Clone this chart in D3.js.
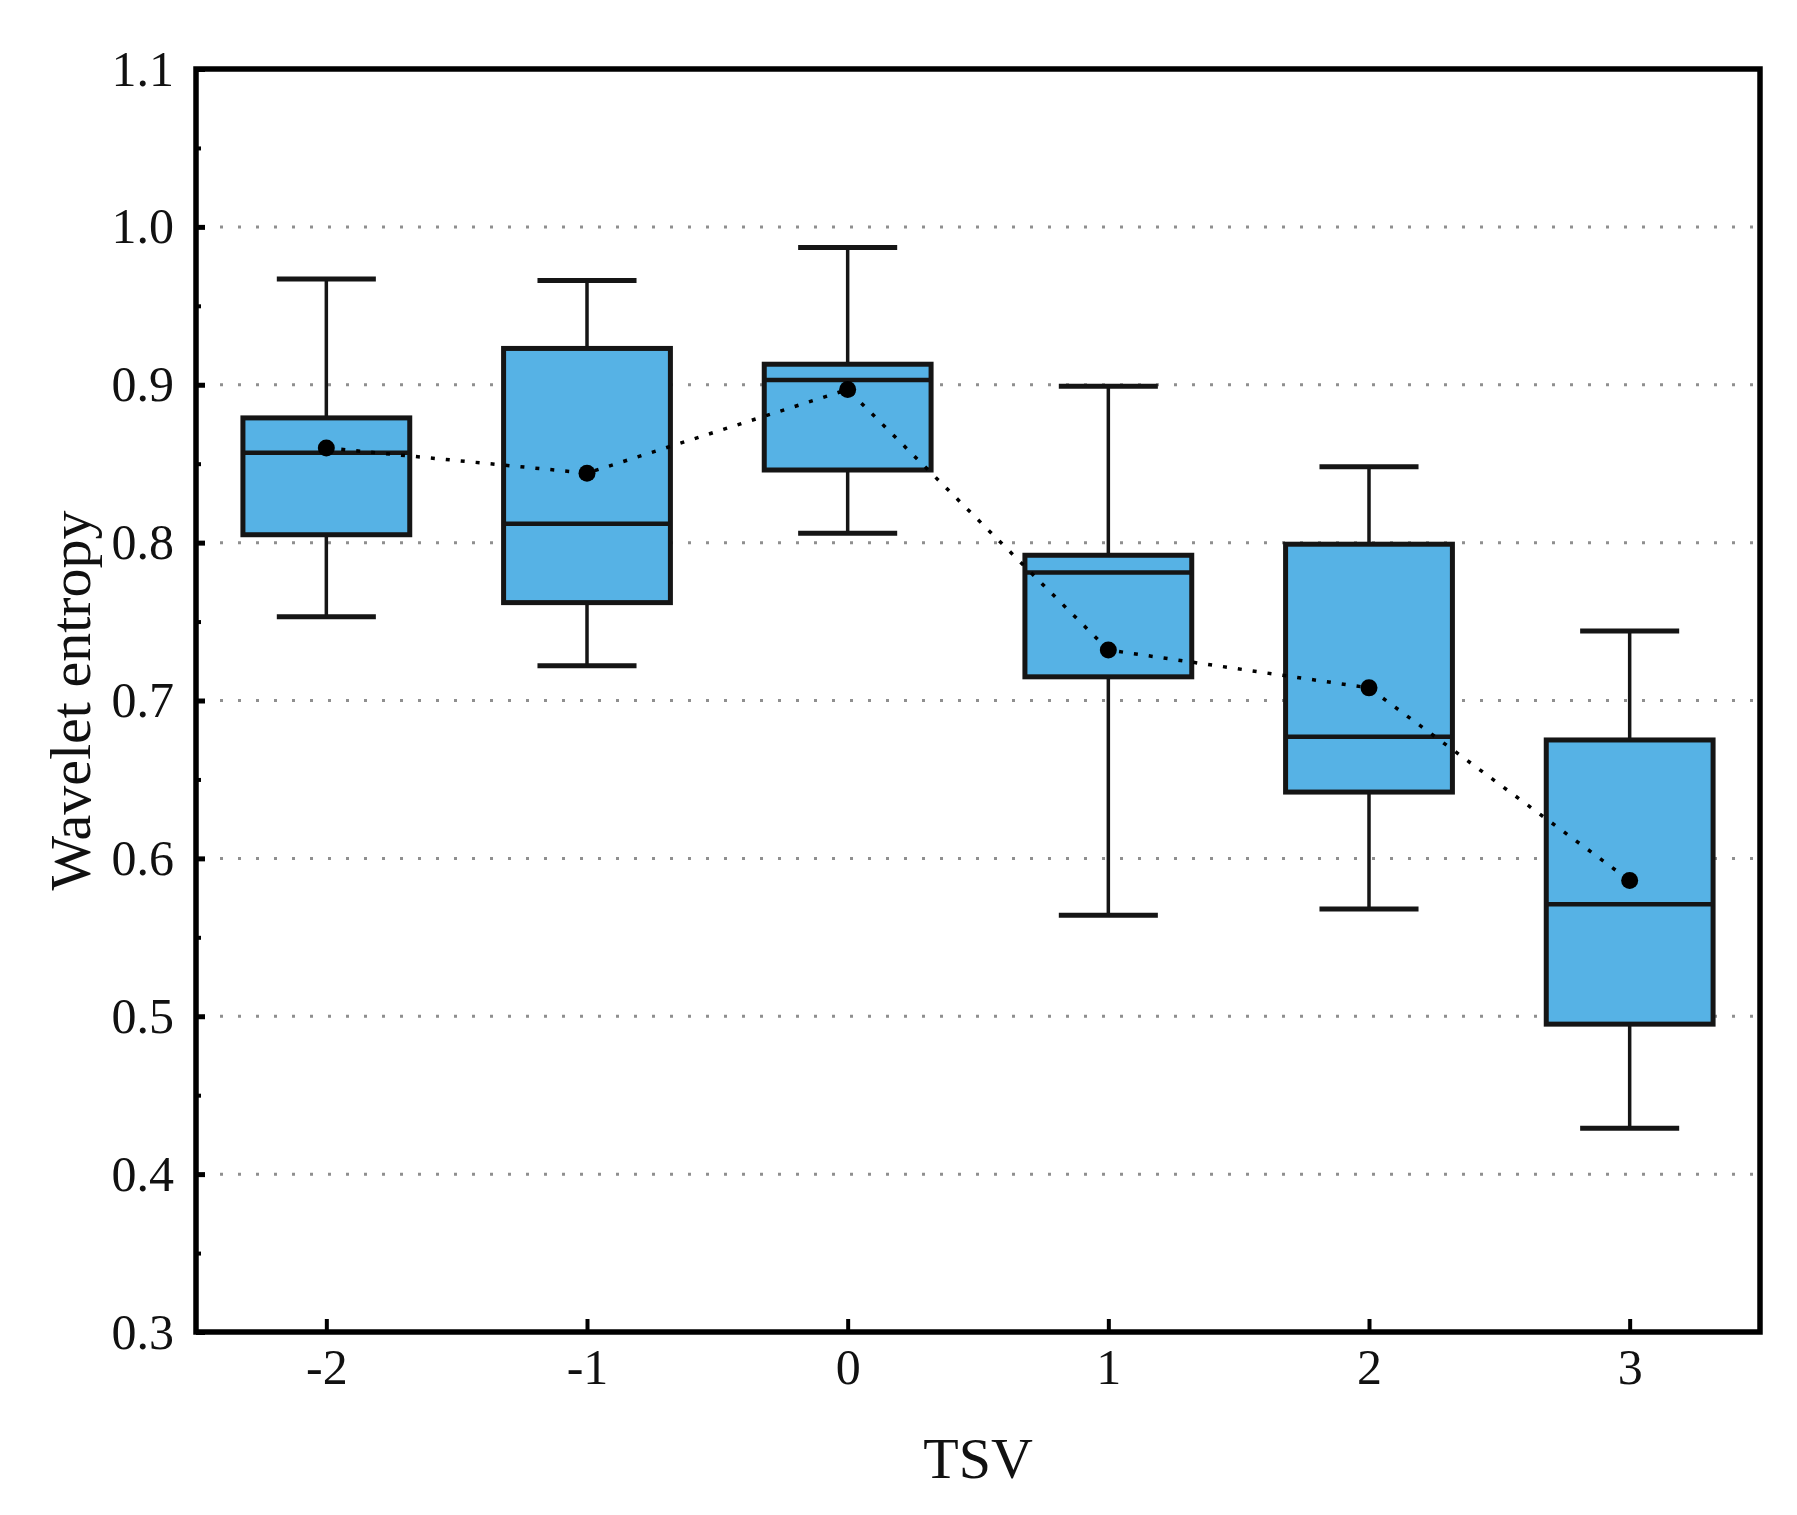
<!DOCTYPE html>
<html>
<head>
<meta charset="utf-8">
<script src="https://cdn.jsdelivr.net/npm/d3@7"></script>
<style>
  html, body { margin: 0; padding: 0; background: #fff; }
  svg { display: block; }
</style>
</head>
<body>
<div id="chart"></div>
<script>
// TSV categories and the box statistics
const tsv = [-2, -1, 0, 1, 2, 3];
const whiskerHigh = [0.967, 0.966, 0.987, 0.899, 0.848, 0.744];
const q3 = [0.879, 0.923, 0.913, 0.792, 0.799, 0.675];
const median = [0.857, 0.812, 0.903, 0.781, 0.677, 0.571];
const q1 = [0.805, 0.762, 0.846, 0.715, 0.642, 0.495];
const whiskerLow = [0.753, 0.722, 0.806, 0.564, 0.568, 0.429];
const mean = [0.860, 0.844, 0.897, 0.732, 0.708, 0.586];

const yTicks = [0.3, 0.4, 0.5, 0.6, 0.7, 0.8, 0.9, 1.0, 1.1];
const yMinorTicks = [0.35, 0.45, 0.55, 0.65, 0.75, 0.85, 0.95, 1.05];
const gridValues = [0.4, 0.5, 0.6, 0.7, 0.8, 0.9, 1.0];

const W = 1797, H = 1515;
const margin = { top: 69, right: 37, bottom: 183, left: 196 };
const boxWidth = 0.64;   // in TSV units
const capWidth = 0.38;
const font = "'Liberation Serif', 'Times New Roman', Times, serif";

const svg = d3.select("#chart").append("svg")
    .attr("width", W)
    .attr("height", H);

const x = d3.scaleLinear()
    .domain([-2.5, 3.5])
    .range([margin.left, W - margin.right]);

const y = d3.scaleLinear()
    .domain([0.3, 1.1])
    .range([H - margin.bottom, margin.top]);

// Dotted grid lines
svg.append("g").selectAll("line")
    .data(gridValues)
    .join("line")
    .attr("x1", x(-2.5) + 6)
    .attr("x2", x(3.5) - 6)
    .attr("y1", d => y(d))
    .attr("y2", d => y(d))
    .attr("stroke", "#8f8f8f")
    .attr("stroke-width", 3)
    .attr("stroke-dasharray", "3,15");

const stats = tsv.map((t, i) => ({
    t: t, hi: whiskerHigh[i], q3: q3[i], med: median[i], q1: q1[i], lo: whiskerLow[i], mean: mean[i]
}));

const boxes = svg.append("g").selectAll("g")
    .data(stats)
    .join("g");

// Whisker stems
boxes.append("line")
    .attr("x1", d => x(d.t)).attr("x2", d => x(d.t))
    .attr("y1", d => y(d.hi)).attr("y2", d => y(d.q3))
    .attr("stroke", "#151515").attr("stroke-width", 3.5);
boxes.append("line")
    .attr("x1", d => x(d.t)).attr("x2", d => x(d.t))
    .attr("y1", d => y(d.q1)).attr("y2", d => y(d.lo))
    .attr("stroke", "#151515").attr("stroke-width", 3.5);

// Whisker caps
boxes.selectAll("line.cap")
    .data(d => [{ t: d.t, v: d.hi }, { t: d.t, v: d.lo }])
    .join("line")
    .attr("class", "cap")
    .attr("x1", d => x(d.t - capWidth / 2))
    .attr("x2", d => x(d.t + capWidth / 2))
    .attr("y1", d => y(d.v)).attr("y2", d => y(d.v))
    .attr("stroke", "#151515").attr("stroke-width", 5);

// Boxes
boxes.append("rect")
    .attr("x", d => x(d.t - boxWidth / 2))
    .attr("width", d => x(d.t + boxWidth / 2) - x(d.t - boxWidth / 2))
    .attr("y", d => y(d.q3))
    .attr("height", d => y(d.q1) - y(d.q3))
    .attr("fill", "#56b2e5")
    .attr("stroke", "#151515")
    .attr("stroke-width", 5);

// Median lines
boxes.append("line")
    .attr("x1", d => x(d.t - boxWidth / 2))
    .attr("x2", d => x(d.t + boxWidth / 2))
    .attr("y1", d => y(d.med)).attr("y2", d => y(d.med))
    .attr("stroke", "#151515").attr("stroke-width", 4.5);

// Dotted line through the means
const meanLine = d3.line()
    .x(d => x(d.t))
    .y(d => y(d.mean));

svg.append("path")
    .datum(stats)
    .attr("d", meanLine)
    .attr("fill", "none")
    .attr("stroke", "#000")
    .attr("stroke-width", 3.5)
    .attr("stroke-dasharray", "4,11");

svg.append("g").selectAll("circle")
    .data(stats)
    .join("circle")
    .attr("cx", d => x(d.t))
    .attr("cy", d => y(d.mean))
    .attr("r", 8.5)
    .attr("fill", "#000");

// Axes
const yAxis = svg.append("g")
    .attr("transform", `translate(${margin.left},0)`)
    .call(d3.axisLeft(y)
        .tickValues(yTicks)
        .tickFormat(d3.format(".1f"))
        .tickSizeInner(-9)
        .tickSizeOuter(0)
        .tickPadding(22));
yAxis.select(".domain").remove();
yAxis.selectAll(".tick line").attr("stroke-width", 5).attr("stroke", "#000");
yAxis.selectAll(".tick text")
    .attr("font-family", font)
    .attr("font-size", 50)
    .attr("fill", "#111");

const yMinor = svg.append("g")
    .attr("transform", `translate(${margin.left},0)`)
    .call(d3.axisLeft(y)
        .tickValues(yMinorTicks)
        .tickFormat("")
        .tickSizeInner(-5)
        .tickSizeOuter(0));
yMinor.select(".domain").remove();
yMinor.selectAll(".tick line").attr("stroke-width", 4).attr("stroke", "#000");

const xAxis = svg.append("g")
    .attr("transform", `translate(0,${H - margin.bottom})`)
    .call(d3.axisBottom(x)
        .tickValues(tsv)
        .tickFormat(d3.format("d"))
        .tickSizeInner(-13)
        .tickSizeOuter(0)
        .tickPadding(16));
xAxis.select(".domain").remove();
xAxis.selectAll(".tick line").attr("stroke-width", 4).attr("stroke", "#000");
xAxis.selectAll(".tick text")
    .text(d => d < 0 ? "-" + Math.abs(d) : d)
    .attr("font-family", font)
    .attr("font-size", 50)
    .attr("fill", "#111");

// Frame
svg.append("rect")
    .attr("x", margin.left)
    .attr("y", margin.top)
    .attr("width", W - margin.left - margin.right)
    .attr("height", H - margin.top - margin.bottom)
    .attr("fill", "none")
    .attr("stroke", "#000")
    .attr("stroke-width", 5.5);

// Axis titles
svg.append("text")
    .attr("x", (margin.left + W - margin.right) / 2)
    .attr("y", 1478)
    .attr("text-anchor", "middle")
    .attr("font-family", font)
    .attr("font-size", 58)
    .attr("fill", "#111")
    .text("TSV");

svg.append("text")
    .attr("transform", `translate(90,${y(0.7)}) rotate(-90)`)
    .attr("text-anchor", "middle")
    .attr("font-family", font)
    .attr("font-size", 58)
    .attr("fill", "#111")
    .text("Wavelet entropy");
</script>
</body>
</html>
